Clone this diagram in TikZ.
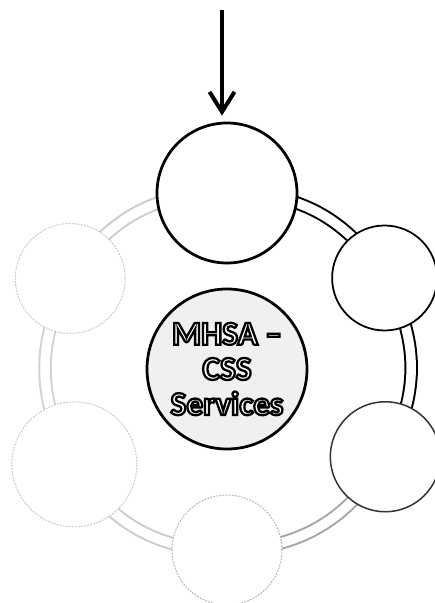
\documentclass[tikz,border=0pt]{standalone}
\usepackage{fontspec}
\newfontfamily\hubfont{Carlito}
\newcommand{\hollow}[1]{\special{pdf:literal direct 2 Tr 0 G 2.6 w}#1\special{pdf:literal direct 0 Tr}}
\usetikzlibrary{arrows.meta,backgrounds}

\begin{document}
\begin{tikzpicture}[x=0.4mm, y=0.4mm,
	ring/.style={circle, fill=white, inner sep=0pt},
	faint/.style={draw=gray!45, line width=0.4mm, dash pattern=on 2pt off 1.5pt},
	link/.style={line width=0.8mm, double=white, double distance=3.8mm}]
\useasboundingbox (-227,-234) rectangle (208,369);
% ring of steps round the hub
\node[ring, draw=black, line width=1.1mm, minimum size=56mm] (top) at (90:176) {};
\node[ring, draw=black, line width=0.7mm, minimum size=42mm] (ur) at (30:182) {};
\node[ring, draw=black!80, line width=0.6mm, minimum size=44mm] (lr) at (-29:181) {};
\node[ring, faint, draw=gray!60, minimum size=44mm] (bot) at (-90:181) {};
\node[ring, faint, minimum size=50mm] (ll) at (-148:180) {};
\node[ring, faint, minimum size=44mm] (ul) at (150:181) {};
\node[ring, fill=gray!12, draw=black, line width=1.1mm, minimum size=64mm,
	font=\hubfont\bfseries\fontsize{38}{40}\selectfont, text=white, align=center] (hub) at (0,0)
	{\hollow{MHSA –}\\ \hollow{CSS}\\ \hollow{Services}};
\begin{scope}[on background layer]
\foreach \a/\b/\c in {top/ur/black, ur/lr/black, lr/bot/gray!70, bot/ll/gray!40, ll/ul/gray!35, ul/top/gray!40}
{
	\draw[link, draw=\c] (\a.center) to[bend left=30] (\b.center);
}
\end{scope}
% way in
\coordinate (src) at (-5,359);
\draw[line width=1.6mm, shorten >=2.4mm, -{Straight Barb[length=8mm, width=10mm]}] (src) -- (src |- top.north);
\end{tikzpicture}
\end{document}
